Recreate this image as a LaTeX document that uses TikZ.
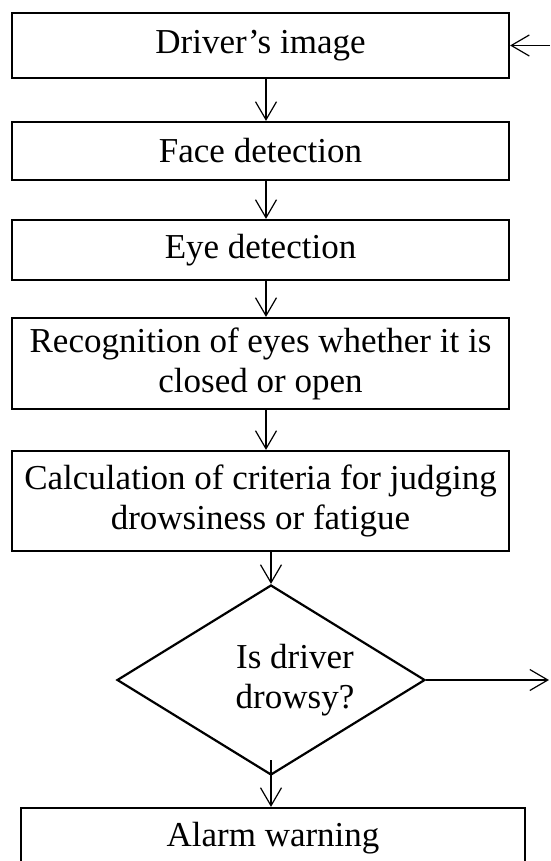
\documentclass[tikz,border=0pt]{standalone}
\usepackage{fontspec}
\setmainfont{Liberation Serif}
\usetikzlibrary{arrows.meta,shapes.geometric}
\begin{document}
\begin{tikzpicture}[x=1pt,y=-1pt,
  every node/.style={font=\fontsize{35}{40}\selectfont, align=center},
  stepbox/.style={draw=black, line width=2.2pt, rectangle, inner sep=0pt,
    minimum width=497pt},
  decision/.style={draw=black, line width=2.2pt, diamond, inner sep=0pt,
    minimum width=308pt, minimum height=190pt},
  flow/.style={draw=black, line width=1.2pt,
    -{Straight Barb[length=18pt,width=21pt,line width=1.2pt]}}]
\useasboundingbox (0,0) rectangle (550,861);
\clip (0,0) rectangle (550,861);

% process steps
\node[stepbox, minimum height=65pt] (img) at (260.5,45.5) {Driver’s image};
\node[stepbox, minimum height=58pt] (face) at (260.5,151) {Face detection};
\node[stepbox, minimum height=60pt] (eye) at (260.5,250) {Eye detection};
\node[stepbox, minimum height=91pt] (rec) at (260.5,363.5)
  {Recognition of eyes whether it is\\closed or open};
\node[stepbox, minimum height=100pt] (calc) at (260.5,501)
  {Calculation of criteria for judging\\drowsiness or fatigue};

% decision diamond, its question set a little right of centre
\node[decision] (dec) at (271,680) {};
\node (q) at (295,680) {Is driver\\drowsy?};

\node[stepbox, minimum width=504pt, minimum height=60pt] (alarm) at (273,838)
  {Alarm warning};

% loose ends of the side arrows
\coordinate (in) at (550,45.5);
\coordinate (out) at (549,680);

% connectors
\draw[flow] (in) -- (img.east);
\draw[flow] ([xshift=5.5pt]img.south) -- ([xshift=5.5pt]face.north);
\draw[flow] ([xshift=5.5pt]face.south) -- ([xshift=5.5pt]eye.north);
\draw[flow] ([xshift=5.5pt]eye.south) -- ([xshift=5.5pt]rec.north);
\draw[flow] ([xshift=5.5pt]rec.south) -- ([xshift=5.5pt]calc.north);
\draw[flow] ([xshift=10.5pt]calc.south) -- (dec.north);
\draw[flow] ([yshift=16pt]dec.south) -- (alarm.north -| dec.south);
\draw[flow] (dec.east) -- (out);
\end{tikzpicture}
\end{document}
